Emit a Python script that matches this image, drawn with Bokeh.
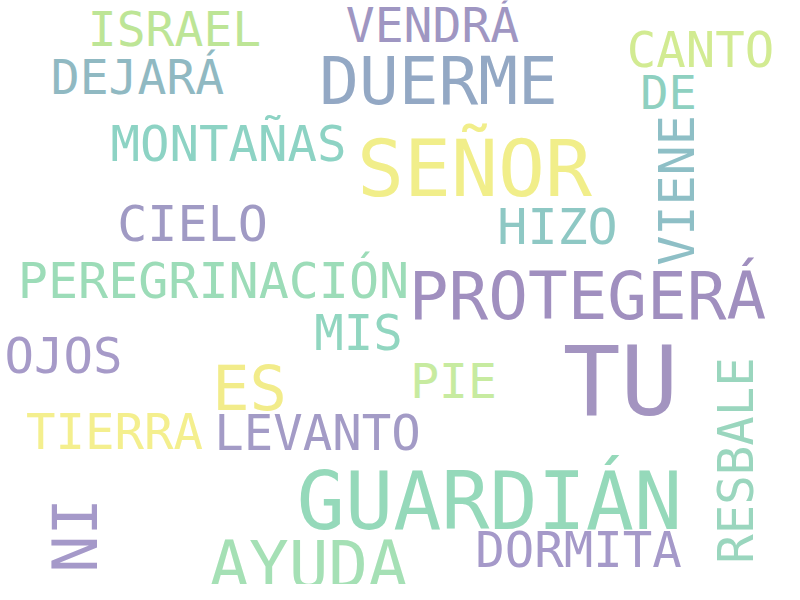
import numpy as np
from bokeh.plotting import figure
from bokeh.models import Range1d
from bokeh.core.properties import value
from bokeh.embed import file_html
from bokeh.resources import INLINE

words = ["ISRAEL", "VENDRÁ", "CANTO", "DEJARÁ", "DUERME", "DE", "MONTAÑAS", "SEÑOR",
         "VIENE", "HIZO", "CIELO", "PEREGRINACIÓN", "PROTEGERÁ", "MIS", "OJOS", "TU",
         "ES", "PIE", "RESBALE", "TIERRA", "LEVANTO", "GUARDIÁN", "NI", "AYUDA", "DORMITA"]
xs = [182, 440, 708, 145, 446, 676, 236, 482,
      684, 565, 200, 221, 595, 366, 71, 628,
      257, 461, 744, 122, 325, 497, 83, 316, 586]
ys = [36, 32, 58, 84, 89, 100, 152, 176,
      198, 234, 231, 288, 304, 341, 364, 389,
      396, 388, 468, 440, 441, 509, 543, 573, 558]
sizes = [48, 48, 49, 48, 66, 47, 49, 78,
         50, 50, 50, 50, 66, 49, 49, 96,
         62, 48, 49, 49, 49, 80, 62, 66, 49]
vertical = [0, 0, 0, 0, 0, 0, 0, 0,
            1, 0, 0, 0, 0, 0, 0, 0,
            0, 0, 1, 0, 0, 0, 1, 0, 0]
colors = ["#bde596", "#9f96c2", "#d2eb92", "#90b9c2", "#93a8c4", "#8ed0c0", "#8dd3c4", "#f1ee8a",
          "#8ebfc6", "#8ec8c4", "#a09ac4", "#9cdcb8", "#a08fbf", "#91d6c0", "#a69ac8", "#a394c0",
          "#f2ec8a", "#c7eba0", "#9ad6be", "#f4ef8e", "#a39bc6", "#95d9ba", "#a599c9", "#a5e0b5", "#a599c9"]

# page has an 8px margin: map data coords to the reference's pixel coords
p = figure(width=784, height=584, output_backend="svg", toolbar_location=None,
           x_range=Range1d(8, 792), y_range=Range1d(592, 8), min_border=0)
p.axis.visible = False
p.grid.visible = False
p.outline_line_color = None

for w, x, y, s, v, c in zip(words, xs, ys, sizes, vertical, colors):
    p.text(x=[x], y=[y], text=[w], text_color=c, text_align="center", text_baseline="middle",
           text_font=value("DejaVu Sans Mono"), text_font_size=f"{s}px",
           angle=np.pi / 2 if v else 0)

open("out.html", "w").write(file_html(p, INLINE))
